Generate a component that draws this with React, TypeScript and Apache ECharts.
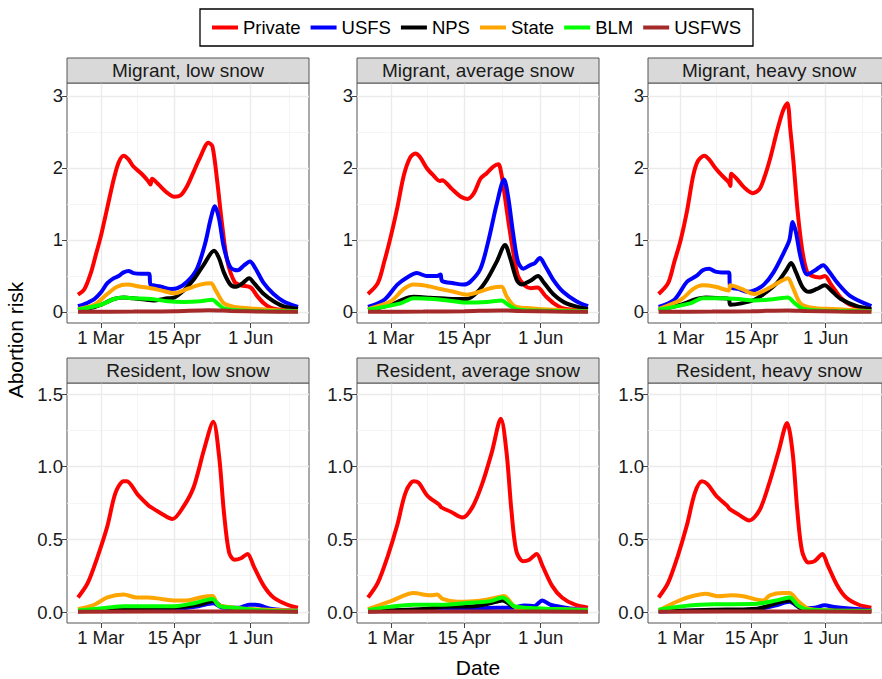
import React, { useEffect, useRef } from "react";
import * as echarts from "echarts";

type Pt = [number, number];

const seriesNames = ["Private", "USFS", "NPS", "State", "BLM", "USFWS"];
const seriesColors = ["#FF0000", "#0000FF", "#000000", "#FFA500", "#00FF00", "#A52A2A"];
const panelTitles = [
  "Migrant, low snow",
  "Migrant, average snow",
  "Migrant, heavy snow",
  "Resident, low snow",
  "Resident, average snow",
  "Resident, heavy snow",
];
// x = days since 1 March
const xTickDays = [0, 45, 92];
const xTickLabels = ["1 Mar", "15 Apr", "1 Jun"];
const xMinorDays = [22.5, 68.5, 115.5];
const yTicksTop = [0, 1, 2, 3];
const yTickLabelsTop = ["0", "1", "2", "3"];
const yMinorTop = [0.5, 1.5, 2.5];
const yTicksBottom = [0, 0.5, 1, 1.5];
const yTickLabelsBottom = ["0.0", "0.5", "1.0", "1.5"];
const yMinorBottom = [0.25, 0.75, 1.25];

// Migrant, low snow
const mlP: Pt[] = [[-14,0.24],[-10,0.32],[-6,0.55],[-3,0.8],[0,1.05],[4,1.45],[8,1.85],[11,2.08],[14,2.17],[17,2.12],[20,2.02],[25,1.92],[29,1.82],[30.5,1.77],[31.5,1.85],[35,1.78],[41,1.65],[45,1.6],[49,1.62],[53,1.75],[57,1.95],[61,2.15],[66,2.35],[68.5,2.3],[71.5,1.8],[74.5,1.2],[77.5,0.72],[82,0.42],[86,0.37],[92,0.34],[96,0.22],[100,0.12],[104,0.06],[110,0.03],[121,0.02]];
const mlU: Pt[] = [[-14,0.08],[-10,0.11],[-4,0.18],[0,0.27],[4,0.4],[8,0.47],[11,0.5],[14,0.55],[17,0.57],[20,0.54],[25,0.53],[29.5,0.53],[30.5,0.38],[33,0.37],[37,0.35],[43,0.32],[47,0.33],[53,0.42],[59,0.6],[64,0.95],[67.5,1.3],[70,1.47],[72.5,1.3],[75.5,0.9],[79.5,0.62],[84,0.58],[88,0.65],[91.5,0.7],[95,0.6],[100,0.4],[106,0.25],[112,0.15],[121,0.07]];
const mlN: Pt[] = [[-14,0.03],[-5,0.06],[0,0.1],[8,0.18],[14,0.2],[20,0.19],[28,0.17],[32,0.16],[41,0.19],[45,0.2],[51,0.3],[57,0.45],[63,0.65],[69.5,0.85],[72.5,0.75],[75.5,0.55],[79.5,0.38],[83,0.35],[87,0.4],[91,0.47],[94,0.4],[100,0.25],[106,0.15],[112,0.08],[121,0.04]];
const mlS: Pt[] = [[-14,0.04],[-4,0.1],[4,0.25],[10,0.35],[16,0.38],[24.5,0.35],[30.7,0.33],[37,0.3],[45,0.26],[53,0.32],[61,0.38],[67.5,0.4],[70.5,0.3],[75.5,0.12],[82,0.07],[92,0.05],[102,0.03],[121,0.01]];
const mlB: Pt[] = [[-14,0.03],[0,0.1],[8,0.18],[14,0.2],[20,0.19],[31,0.18],[41,0.15],[51,0.14],[61,0.15],[68.5,0.17],[71.5,0.12],[75.5,0.05],[86,0.02],[121,0.01]];
const mlW: Pt[] = [[-14,0.004],[20,0.006],[45,0.01],[66,0.025],[80,0.015],[100,0.006],[121,0.004]];

// Migrant, average snow
const maP: Pt[] = [[-14,0.25],[-8,0.4],[-4,0.7],[0,1.05],[4,1.45],[8,1.9],[12,2.15],[15,2.2],[18,2.15],[22,2.0],[26,1.9],[30,1.82],[31.5,1.83],[37,1.72],[43,1.6],[47,1.57],[51,1.65],[55,1.85],[59,1.93],[63,2.02],[66,2.05],[68,1.9],[70,1.6],[72.5,1.2],[75,0.85],[78,0.5],[82,0.37],[86,0.33],[90,0.34],[95,0.22],[100,0.12],[106,0.05],[121,0.02]];
const maU: Pt[] = [[-14,0.07],[-4,0.17],[4,0.38],[10,0.48],[16,0.54],[22,0.5],[28.5,0.5],[30.5,0.52],[31.5,0.43],[38.5,0.4],[44.7,0.38],[48.8,0.42],[55,0.6],[60,1.0],[65,1.5],[69.5,1.84],[72,1.6],[75,1.1],[78,0.7],[81.3,0.6],[85.4,0.65],[88.4,0.68],[91.5,0.75],[94.5,0.65],[99.6,0.45],[105.7,0.28],[113.8,0.15],[121,0.08]];
const maN: Pt[] = [[-14,0.03],[0,0.1],[8,0.18],[14,0.21],[22,0.2],[30.5,0.19],[38.6,0.18],[46.7,0.18],[52.8,0.27],[59,0.45],[65,0.7],[70.1,0.93],[73.2,0.75],[77.2,0.45],[80.3,0.38],[85.4,0.43],[90.4,0.5],[93.5,0.42],[99.6,0.25],[107.7,0.12],[121,0.04]];
const maS: Pt[] = [[-14,0.04],[0,0.15],[8,0.32],[14,0.38],[20,0.37],[30.5,0.32],[38.6,0.28],[46.7,0.24],[52.8,0.27],[61,0.33],[68,0.35],[71,0.22],[76,0.08],[87,0.05],[99.6,0.03],[121,0.01]];
const maB: Pt[] = [[-14,0.03],[6,0.12],[14,0.19],[26,0.18],[38.6,0.15],[46.7,0.13],[58.9,0.14],[68,0.16],[72,0.1],[77,0.04],[87,0.02],[121,0.01]];
const maW: Pt[] = [[-14,0.004],[20,0.006],[45,0.01],[67,0.022],[80,0.014],[100,0.006],[121,0.004]];

// Migrant, heavy snow
const mhP: Pt[] = [[-14,0.25],[-8,0.4],[-4,0.7],[0,1.0],[4,1.4],[8,1.9],[11,2.1],[15,2.17],[18,2.12],[22,2.0],[26,1.9],[30.5,1.8],[31.5,1.75],[32.1,1.92],[35.6,1.85],[40.7,1.72],[45.7,1.65],[49.8,1.7],[52.8,1.85],[57,2.15],[61,2.5],[65,2.8],[67.7,2.9],[69.5,2.55],[71.5,2.1],[74.2,1.4],[77.2,0.85],[80.3,0.55],[83.3,0.5],[88.4,0.48],[91.5,0.5],[95.5,0.38],[101.6,0.2],[107.7,0.1],[121,0.03]];
const mhU: Pt[] = [[-14,0.07],[-4,0.17],[4,0.42],[10,0.5],[14,0.58],[18,0.6],[22,0.56],[26,0.55],[30.5,0.55],[31.5,0.35],[36.6,0.32],[42.7,0.28],[46.7,0.3],[52.8,0.38],[58.9,0.55],[66,0.85],[69,1.0],[71.1,1.25],[73.2,1.1],[76.2,0.75],[80.3,0.52],[85.4,0.58],[90.4,0.65],[94.5,0.55],[99.6,0.4],[107.7,0.22],[121,0.08]];
const mhN: Pt[] = [[-14,0.03],[0,0.1],[10,0.18],[16,0.2],[26,0.19],[30.5,0.18],[31.5,0.1],[38.6,0.12],[46.7,0.17],[52.8,0.25],[61,0.4],[67,0.58],[70.1,0.68],[73.2,0.55],[77.2,0.35],[81.3,0.28],[86.4,0.32],[91.5,0.37],[95.5,0.3],[101.6,0.18],[111.8,0.08],[121,0.04]];
const mhS: Pt[] = [[-14,0.04],[0,0.17],[8,0.32],[14,0.37],[22,0.35],[30.5,0.3],[31.5,0.37],[38.6,0.32],[46.7,0.25],[54.9,0.32],[63,0.42],[68,0.47],[71,0.35],[76,0.12],[83,0.06],[97.6,0.04],[121,0.01]];
const mhB: Pt[] = [[-14,0.03],[6,0.12],[14,0.19],[26,0.19],[36.6,0.18],[46.7,0.16],[54.9,0.17],[63,0.19],[68,0.2],[72,0.13],[77,0.05],[87,0.02],[121,0.01]];
const mhW: Pt[] = [[-14,0.004],[20,0.006],[45,0.01],[68,0.022],[80,0.014],[100,0.006],[121,0.004]];

// Resident, low snow
const rlP: Pt[] = [[-14,0.1],[-8,0.2],[-2,0.38],[4,0.59],[9,0.82],[14,0.9],[16,0.9],[22.5,0.81],[29.6,0.73],[31,0.72],[36.8,0.68],[44,0.64],[51,0.73],[57,0.86],[63.4,1.12],[69,1.31],[72.6,1.07],[75.6,0.68],[78.7,0.41],[82,0.36],[86,0.37],[90,0.4],[94,0.31],[100,0.18],[106,0.1],[114.5,0.05],[121,0.03]];
const rlU: Pt[] = [[-14,0.01],[20,0.015],[45,0.02],[60,0.04],[69,0.06],[75,0.03],[85,0.03],[91,0.05],[95,0.05],[105,0.02],[121,0.01]];
const rlN: Pt[] = [[-14,0.005],[10,0.015],[30,0.02],[31,0.03],[45,0.03],[60,0.05],[69,0.075],[74,0.04],[85,0.02],[100,0.01],[121,0.005]];
const rlS: Pt[] = [[-14,0.02],[-4,0.05],[4,0.1],[14,0.12],[22,0.1],[29,0.1],[37,0.09],[45,0.08],[53,0.08],[61,0.1],[68.5,0.11],[72,0.05],[82,0.03],[92,0.02],[121,0.01]];
const rlB: Pt[] = [[-14,0.01],[4,0.03],[14,0.04],[30,0.04],[45,0.04],[57,0.06],[68.5,0.09],[73,0.04],[82,0.03],[100,0.01],[121,0.005]];
const rlW: Pt[] = [[-14,0.002],[60,0.004],[121,0.002]];

// Resident, average snow
const raP: Pt[] = [[-14,0.1],[-8,0.2],[-2,0.38],[4,0.6],[9,0.82],[14,0.9],[17,0.89],[22.5,0.8],[29.6,0.74],[31,0.72],[36.8,0.69],[44,0.65],[50,0.72],[56,0.88],[62,1.1],[67.5,1.33],[71,1.1],[74,0.7],[77,0.42],[81,0.35],[85,0.36],[89.5,0.4],[93,0.32],[99,0.18],[105,0.1],[113,0.05],[121,0.03]];
const raU: Pt[] = [[-14,0.005],[40,0.015],[65,0.03],[75,0.03],[82,0.045],[88,0.04],[93,0.08],[98,0.05],[110,0.025],[121,0.015]];
const raN: Pt[] = [[-14,0.005],[20,0.02],[31,0.035],[51,0.04],[61,0.06],[68.5,0.08],[75.6,0.035],[92,0.02],[121,0.008]];
const raS: Pt[] = [[-14,0.02],[0,0.075],[14,0.13],[24,0.115],[28.6,0.12],[31.7,0.09],[41,0.07],[53,0.075],[65,0.1],[69.5,0.11],[75.6,0.04],[82,0.023],[100,0.02],[121,0.015]];
const raB: Pt[] = [[-14,0.014],[0,0.037],[14,0.05],[31,0.05],[45,0.06],[61,0.075],[68.5,0.1],[75.6,0.04],[82,0.03],[121,0.012]];
const raW: Pt[] = [[-14,0.002],[60,0.004],[121,0.002]];

// Resident, heavy snow
const rhP: Pt[] = [[-14,0.1],[-8,0.2],[-2,0.38],[4,0.6],[9,0.82],[13.5,0.9],[17,0.88],[22.5,0.8],[29.6,0.73],[31,0.71],[36.8,0.67],[43.5,0.63],[50,0.7],[56,0.88],[62,1.1],[67.5,1.3],[71,1.1],[74,0.7],[77,0.42],[81,0.34],[85,0.35],[90,0.4],[93,0.33],[99,0.19],[105,0.1],[113,0.05],[121,0.03]];
const rhU: Pt[] = [[-14,0.005],[40,0.015],[50,0.02],[60.7,0.046],[69,0.07],[77,0.025],[85,0.03],[91.4,0.046],[97.5,0.034],[121,0.011]];
const rhN: Pt[] = [[-14,0.005],[20,0.015],[48.5,0.023],[61,0.062],[69,0.08],[77,0.023],[95,0.01],[121,0.005]];
const rhS: Pt[] = [[-14,0.01],[-0.6,0.08],[9.6,0.115],[15.7,0.126],[24,0.108],[32,0.115],[40,0.108],[48.5,0.085],[52.5,0.08],[56.6,0.115],[64.8,0.13],[69,0.13],[75,0.07],[81,0.023],[93.5,0.011],[121,0.008]];
const rhB: Pt[] = [[-14,0.016],[7,0.046],[22,0.053],[48.5,0.057],[61,0.08],[69,0.1],[75,0.04],[81,0.016],[121,0.007]];
const rhW: Pt[] = [[-14,0.002],[60,0.004],[121,0.002]];

const panelData: Pt[][][] = [
  [mlP, mlU, mlN, mlS, mlB, mlW],
  [maP, maU, maN, maS, maB, maW],
  [mhP, mhU, mhN, mhS, mhB, mhW],
  [rlP, rlU, rlN, rlS, rlB, rlW],
  [raP, raU, raN, raS, raB, raW],
  [rhP, rhU, rhN, rhS, rhB, rhW],
];

const FONT = "'Liberation Sans', Arial, Helvetica, sans-serif";
const colLeft = [67, 357, 648];
const rowTop = [83, 383];
const PW = 242;
const PH = 240;
const STRIP = 25;
const yRange = [
  [-0.153, 3.18],
  [-0.0757, 1.576],
];

function buildOption() {
  const grid: any[] = [];
  const xAxis: any[] = [];
  const yAxis: any[] = [];
  const series: any[] = [];
  const graphic: any[] = [];

  for (let i = 0; i < 6; i++) {
    const row = Math.floor(i / 3);
    const col = i % 3;
    const left = colLeft[col];
    const top = rowTop[row];
    grid.push({
      left,
      top,
      width: PW,
      height: PH,
      show: true,
      borderColor: "#555555",
      borderWidth: 1,
      backgroundColor: "#FFFFFF",
    });
    xAxis.push({
      gridIndex: i,
      type: "value",
      min: -20.75,
      max: 127.75,
      axisLine: { show: false, onZero: false },
      splitLine: { show: false },
      axisTick: {
        show: true,
        customValues: xTickDays,
        length: 5,
        lineStyle: { color: "#444", width: 1 },
      },
      axisLabel: {
        customValues: xTickDays,
        formatter: (v: number) => xTickLabels[xTickDays.indexOf(v)] ?? "",
        fontSize: 18.5,
        color: "#1a1a1a",
        margin: 5,
        fontFamily: FONT,
      },
    });
    const yT = row === 0 ? yTicksTop : yTicksBottom;
    const yL = row === 0 ? yTickLabelsTop : yTickLabelsBottom;
    yAxis.push({
      gridIndex: i,
      type: "value",
      min: yRange[row][0],
      max: yRange[row][1],
      axisLine: { show: false, onZero: false },
      splitLine: { show: false },
      axisTick: {
        show: true,
        customValues: yT,
        length: 5,
        lineStyle: { color: "#444", width: 1 },
      },
      axisLabel: {
        customValues: yT,
        formatter: (v: number) => {
          const k = yT.findIndex((t) => Math.abs(t - v) < 1e-9);
          return k >= 0 ? yL[k] : "";
        },
        fontSize: 18.5,
        color: "#1a1a1a",
        margin: 4,
        fontFamily: FONT,
      },
    });

    const yMinor = row === 0 ? yMinorTop : yMinorBottom;
    const major = { color: "#EBEBEB", width: 1.4, type: "solid" };
    const minor = { color: "#F2F2F2", width: 0.8, type: "solid" };
    const mlData: any[] = [];
    xMinorDays.forEach((d) => mlData.push({ xAxis: d, lineStyle: minor }));
    yMinor.forEach((d) => mlData.push({ yAxis: d, lineStyle: minor }));
    xTickDays.forEach((d) => mlData.push({ xAxis: d, lineStyle: major }));
    yT.forEach((d) => mlData.push({ yAxis: d, lineStyle: major }));
    series.push({
      type: "line",
      xAxisIndex: i,
      yAxisIndex: i,
      data: [],
      silent: true,
      z: 1,
      markLine: {
        z: 1,
        silent: true,
        symbol: ["none", "none"],
        label: { show: false },
        emphasis: { disabled: true },
        data: mlData,
      },
    });

    seriesNames.forEach((name, k) => {
      series.push({
        type: "line",
        name,
        xAxisIndex: i,
        yAxisIndex: i,
        data: panelData[i][k],
        symbol: "none",
        showSymbol: false,
        smooth: 0.3,
        z: 3 + k,
        color: seriesColors[k],
        lineStyle: { width: 4, color: seriesColors[k] },
        emphasis: { disabled: true },
      });
    });

    graphic.push({
      type: "rect",
      shape: { x: left, y: top - STRIP, width: PW, height: STRIP },
      style: { fill: "#D9D9D9", stroke: "#555555", lineWidth: 1 },
      z: 10,
    });
    graphic.push({
      type: "text",
      x: left + PW / 2,
      y: top - STRIP / 2,
      style: {
        text: panelTitles[i],
        fontSize: 19,
        fontFamily: FONT,
        fill: "#1a1a1a",
        align: "center",
        verticalAlign: "middle",
        textAlign: "center",
        textVerticalAlign: "middle",
      },
      z: 11,
    });
  }

  graphic.push({
    type: "text",
    x: 15,
    y: 340,
    rotation: Math.PI / 2,
    style: {
      text: "Abortion risk",
      fontSize: 21,
      fontFamily: FONT,
      fill: "#000",
      align: "center",
      verticalAlign: "middle",
      textAlign: "center",
      textVerticalAlign: "middle",
    },
  });
  graphic.push({
    type: "text",
    x: 478,
    y: 667,
    style: {
      text: "Date",
      fontSize: 21,
      fontFamily: FONT,
      fill: "#000",
      align: "center",
      verticalAlign: "middle",
      textAlign: "center",
      textVerticalAlign: "middle",
    },
  });

  return {
    animation: false,
    backgroundColor: "#FFFFFF",
    textStyle: { fontFamily: FONT },
    legend: {
      data: seriesNames,
      top: 9,
      left: 200,
      icon: "rect",
      itemWidth: 26,
      itemHeight: 4,
      itemGap: 10,
      padding: [9, 12],
      borderColor: "#000",
      borderWidth: 1.3,
      selectedMode: false,
      textStyle: { fontSize: 18.5, color: "#000", fontFamily: FONT },
    },
    grid,
    xAxis,
    yAxis,
    series,
    graphic,
  };
}

export default function App() {
  const ref = useRef<HTMLDivElement>(null);
  useEffect(() => {
    if (!ref.current) return;
    const chart = echarts.init(ref.current, null, { renderer: "svg" });
    chart.setOption(buildOption() as any);
    return () => chart.dispose();
  }, []);
  return (
    <div
      ref={ref}
      style={{ position: "fixed", left: 0, top: 0, width: 882, height: 679, background: "#fff" }}
    />
  );
}
